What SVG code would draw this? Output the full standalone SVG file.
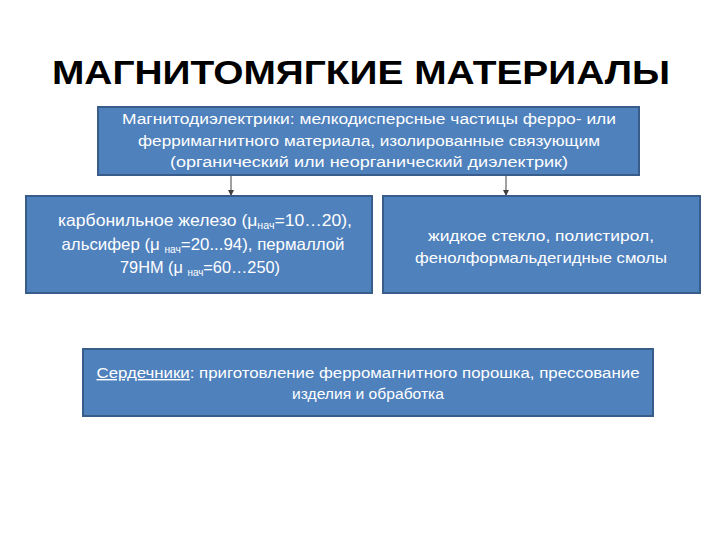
<svg xmlns="http://www.w3.org/2000/svg" width="720" height="540" viewBox="0 0 720 540">
<style>
.box{fill:#4F81BD;stroke:#385D8A;stroke-width:2}
.t{font-family:"Liberation Sans","DejaVu Sans",sans-serif;fill:#FFFFFF;text-anchor:middle}
.s{font-size:14px}
.r{font-size:15px}
.m{font-size:16.5px}
.sub{font-size:10px}
.title{font-family:"Liberation Sans","DejaVu Sans",sans-serif;font-weight:bold;font-size:33px;fill:#000000;text-anchor:middle}
.c{stroke:#404040;stroke-width:1;fill:none}
</style>
<defs>
<marker id="ah" markerWidth="6" markerHeight="6" refX="5" refY="3" orient="auto" markerUnits="userSpaceOnUse">
<path d="M0,0 L6,3 L0,6 z" fill="#404040"/>
</marker>
</defs>
<rect width="720" height="540" fill="#FFFFFF"/>
<text class="title" x="361" y="84" textLength="618" lengthAdjust="spacingAndGlyphs">МАГНИТОМЯГКИЕ  МАТЕРИАЛЫ</text>
<g id="connectors">
<line class="c" x1="231" y1="175" x2="231" y2="195" marker-end="url(#ah)"/>
<line class="c" x1="506" y1="175" x2="506" y2="195" marker-end="url(#ah)"/>
</g>
<g id="top">
<rect class="box" x="98" y="107" width="541" height="68"/>
<text class="t s" x="369" y="124" textLength="494" lengthAdjust="spacingAndGlyphs">Магнитодиэлектрики: мелкодисперсные частицы ферро- или</text>
<text class="t s" x="369" y="146" textLength="462" lengthAdjust="spacingAndGlyphs">ферримагнитного материала, изолированные связующим</text>
<text class="t s" x="369" y="167" textLength="398" lengthAdjust="spacingAndGlyphs">(органический или неорганический диэлектрик)</text>
</g>
<g id="left">
<rect class="box" x="26" y="196" width="346" height="97"/>
<text class="t m" x="205" y="226" textLength="294" lengthAdjust="spacingAndGlyphs">карбонильное  железо (μ<tspan class="sub" dy="3">нач</tspan><tspan dy="-3">=10…20),</tspan></text>
<text class="t m" x="203" y="250" textLength="283" lengthAdjust="spacingAndGlyphs">альсифер (μ <tspan class="sub" dy="3">нач</tspan><tspan dy="-3">=20...94),  пермаллой</tspan></text>
<text class="t m" x="200" y="273" textLength="160" lengthAdjust="spacingAndGlyphs">79НМ (μ <tspan class="sub" dy="3">нач</tspan><tspan dy="-3">=60…250)</tspan></text>
</g>
<g id="right">
<rect class="box" x="383" y="196" width="317" height="97"/>
<text class="t r" x="541" y="241" textLength="226" lengthAdjust="spacingAndGlyphs">жидкое стекло, полистирол,</text>
<text class="t r" x="541" y="263" textLength="252" lengthAdjust="spacingAndGlyphs">фенолформальдегидные смолы</text>
</g>
<g id="bottom">
<rect class="box" x="83" y="349" width="570" height="67"/>
<text class="t s" x="368" y="378" textLength="543" lengthAdjust="spacingAndGlyphs"><tspan text-decoration="underline">Сердечники</tspan>: приготовление ферромагнитного порошка, прессование</text>
<text class="t s" x="368" y="399" textLength="152" lengthAdjust="spacingAndGlyphs">изделия и обработка</text>
</g>
</svg>
